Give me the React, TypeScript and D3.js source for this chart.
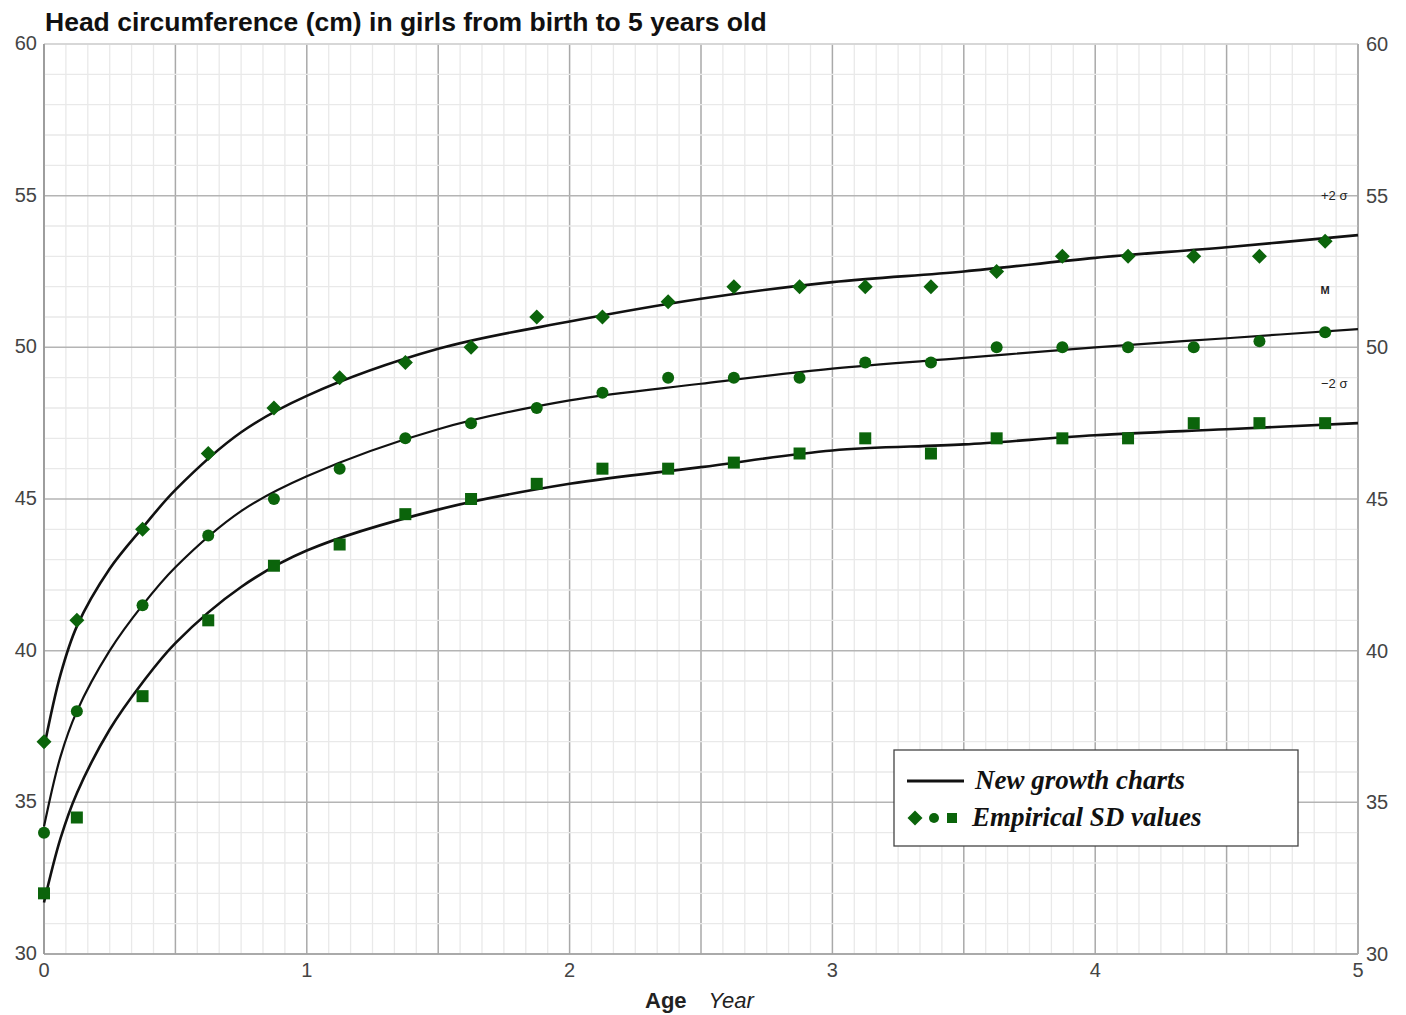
import { useEffect, useRef } from 'react';
import * as d3 from 'd3';

// empirical points (ages in years, values in cm)
const pointAges = [0, 0.125, 0.375, 0.625, 0.875, 1.125, 1.375, 1.625, 1.875, 2.125, 2.375,
  2.625, 2.875, 3.125, 3.375, 3.625, 3.875, 4.125, 4.375, 4.625, 4.875];
const plus2sd = [37, 41, 44, 46.5, 48, 49, 49.5, 50, 51, 51, 51.5, 52, 52, 52, 52, 52.5, 53, 53, 53, 53, 53.5];
const median = [34, 38, 41.5, 43.8, 45, 46, 47, 47.5, 48, 48.5, 49, 49, 49, 49.5, 49.5, 50, 50, 50, 50, 50.2, 50.5];
const minus2sd = [32, 34.5, 38.5, 41, 42.8, 43.5, 44.5, 45, 45.5, 46, 46, 46.2, 46.5, 47, 46.5, 47, 47, 47, 47.5, 47.5, 47.5];

// fitted growth curves
const curveAges = [0, 0.0625, 0.125, 0.25, 0.375, 0.5, 0.75, 1, 1.5, 2, 2.5, 3, 3.5, 4, 4.5, 5];
const curvePlus = [36.8, 39.2, 40.8, 42.7, 44.05, 45.3, 47.2, 48.4, 49.95, 50.85, 51.6, 52.15, 52.5, 52.95, 53.3, 53.7];
const curveMedian = [34.2, 36.5, 38.0, 40.0, 41.5, 42.75, 44.6, 45.75, 47.3, 48.25, 48.8, 49.3, 49.65, 50.0, 50.3, 50.6];
const curveMinus = [31.7, 33.8, 35.3, 37.4, 38.95, 40.25, 42.1, 43.3, 44.65, 45.5, 46.05, 46.6, 46.8, 47.1, 47.3, 47.5];

const yTicks = [30, 35, 40, 45, 50, 55, 60];
const xTicks = [0, 1, 2, 3, 4, 5];
const curveLabels = [
  { text: '+2 σ', value: 55, bold: false },
  { text: 'M', value: 51.9, bold: true },
  { text: '−2 σ', value: 48.8, bold: false },
];

const GREEN = '#0b640b';

function drawMarker(g, shape, cx, cy) {
  if (shape === 'diamond') {
    g.append('path')
      .attr('d', `M${cx},${cy - 7.5}L${cx + 7.5},${cy}L${cx},${cy + 7.5}L${cx - 7.5},${cy}Z`)
      .attr('fill', GREEN);
  } else if (shape === 'circle') {
    g.append('circle').attr('cx', cx).attr('cy', cy).attr('r', 6).attr('fill', GREEN);
  } else {
    g.append('rect').attr('x', cx - 6).attr('y', cy - 6).attr('width', 12).attr('height', 12).attr('fill', GREEN);
  }
}

const renderChart = (node) => {
  const svg = d3.select(node);
  svg.selectAll('*').remove();

  const left = 36, top = 36, right = 1350, bottom = 946; // inside svg (body margin 8)
  const x = d3.scaleLinear().domain([0, 5]).range([left, right]);
  const y = d3.scaleLinear().domain([30, 60]).range([bottom, top]);

  const grid = svg.append('g');
  // vertical lines: every month, darker every 6 months
  d3.range(0, 61).forEach(m => {
    const major = m % 6 === 0;
    grid.append('line')
      .attr('x1', x(m / 12)).attr('x2', x(m / 12))
      .attr('y1', top).attr('y2', bottom)
      .attr('stroke', major ? '#a9a9a9' : '#e9e9e9')
      .attr('stroke-width', major ? 1.5 : 1.3);
  });
  d3.range(30, 61).forEach(v => {
    const major = v % 5 === 0;
    grid.append('line')
      .attr('x1', left).attr('x2', right)
      .attr('y1', y(v)).attr('y2', y(v))
      .attr('stroke', major ? '#b4b4b4' : '#e9e9e9')
      .attr('stroke-width', major ? 1.5 : 1.3);
  });
  // frame
  grid.append('line').attr('x1', left).attr('x2', right).attr('y1', top).attr('y2', top)
    .attr('stroke', '#dcdcdc').attr('stroke-width', 1.5);
  grid.append('line').attr('x1', left).attr('x2', right).attr('y1', bottom).attr('y2', bottom)
    .attr('stroke', '#a0a0a0').attr('stroke-width', 1.5);
  grid.append('line').attr('x1', left).attr('x2', left).attr('y1', top).attr('y2', bottom)
    .attr('stroke', '#9a9a9a').attr('stroke-width', 1.8);
  grid.append('line').attr('x1', right).attr('x2', right).attr('y1', top).attr('y2', bottom)
    .attr('stroke', '#a6a6a6').attr('stroke-width', 1.5);

  const font = '"Liberation Sans", Arial, sans-serif';
  // y tick labels both sides
  yTicks.forEach(v => {
    svg.append('text').attr('x', left - 7).attr('y', y(v) + 6)
      .attr('text-anchor', 'end').attr('font-family', font).attr('font-size', 20).attr('fill', '#444')
      .text(v);
    svg.append('text').attr('x', right + 8).attr('y', y(v) + 7)
      .attr('text-anchor', 'start').attr('font-family', font).attr('font-size', 20).attr('fill', '#444')
      .text(v);
  });
  xTicks.forEach(v => {
    svg.append('text').attr('x', x(v)).attr('y', bottom + 23)
      .attr('text-anchor', 'middle').attr('font-family', font).attr('font-size', 20).attr('fill', '#444')
      .text(v);
  });

  // title
  svg.append('text').attr('x', 37).attr('y', 23)
    .attr('font-family', font).attr('font-size', 26.5).attr('font-weight', 'bold').attr('fill', '#111')
    .text('Head circumference (cm) in girls from birth to 5 years old');

  // axis title
  const axisTitle = svg.append('text').attr('x', 637).attr('y', 1000)
    .attr('font-family', font).attr('font-size', 22).attr('fill', '#222');
  axisTitle.append('tspan').attr('font-weight', 'bold').text('Age');
  axisTitle.append('tspan').attr('dx', 22).attr('font-style', 'italic').text('Year');

  // curves
  const line = d3.line().x(d => x(d[0])).y(d => y(d[1])).curve(d3.curveCatmullRom.alpha(0.5));
  [curvePlus, curveMedian, curveMinus].forEach((vals, i) => {
    svg.append('path')
      .attr('d', line(curveAges.map((a, j) => [a, vals[j]])))
      .attr('fill', 'none')
      .attr('stroke', '#111')
      .attr('stroke-width', i === 1 ? 2.2 : 2.6);
  });

  // markers
  const markers = svg.append('g');
  pointAges.forEach((a, i) => {
    drawMarker(markers, 'diamond', x(a), y(plus2sd[i]));
    drawMarker(markers, 'circle', x(a), y(median[i]));
    drawMarker(markers, 'square', x(a), y(minus2sd[i]));
  });

  // curve labels at right
  curveLabels.forEach(l => {
    svg.append('text').attr('x', l.bold ? x(4.875) : x(4.96)).attr('y', y(l.value) + 4)
      .attr('text-anchor', l.bold ? 'middle' : 'end')
      .attr('font-family', font).attr('font-size', l.bold ? 11 : 13)
      .attr('font-weight', l.bold ? 'bold' : 'normal').attr('fill', '#222')
      .text(l.text);
  });

  // legend
  const lg = svg.append('g').attr('transform', 'translate(886,742)');
  lg.append('rect').attr('x', 0).attr('y', 0).attr('width', 404).attr('height', 96)
    .attr('fill', '#fff').attr('stroke', '#444').attr('stroke-width', 1.3);
  lg.append('line').attr('x1', 13).attr('x2', 70).attr('y1', 31).attr('y2', 31)
    .attr('stroke', '#111').attr('stroke-width', 3);
  const serif = '"Liberation Serif", "Times New Roman", serif';
  lg.append('text').attr('x', 81).attr('y', 39)
    .attr('font-family', serif).attr('font-size', 27).attr('font-style', 'italic').attr('font-weight', 'bold')
    .attr('fill', '#111').text('New growth charts');
  drawMarker(lg, 'diamond', 21, 68);
  lg.append('circle').attr('cx', 40).attr('cy', 68).attr('r', 5).attr('fill', GREEN);
  lg.append('rect').attr('x', 53).attr('y', 63).attr('width', 10).attr('height', 10).attr('fill', GREEN);
  lg.append('text').attr('x', 78).attr('y', 76)
    .attr('font-family', serif).attr('font-size', 27).attr('font-style', 'italic').attr('font-weight', 'bold')
    .attr('fill', '#111').text('Empirical SD values');
};

const App = () => {
  const ref = useRef(null);
  useEffect(() => {
    renderChart(ref.current);
  }, []);
  return <svg ref={ref} width={1390} height={1006} style={{ display: 'block' }} />;
};

export default App;
